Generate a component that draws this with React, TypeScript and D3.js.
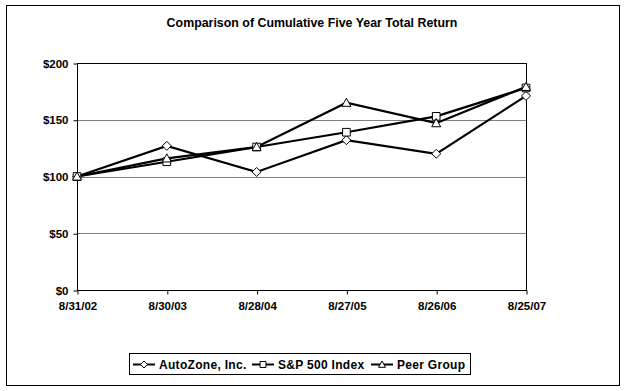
import { useEffect, useRef } from 'react';
import * as d3 from 'd3';

const dates = ['8/31/02', '8/30/03', '8/28/04', '8/27/05', '8/26/06', '8/25/07'];
const autozone = [100, 127, 104, 132, 120, 171];
const sp500 = [100, 113, 126, 139, 153, 178];
const peerGroup = [100, 116, 126, 165, 147, 179];
const yTicks = [0, 50, 100, 150, 200];

const seriesList = [
  { name: 'AutoZone, Inc.', values: autozone, marker: 'diamond' },
  { name: 'S&P 500 Index', values: sp500, marker: 'square' },
  { name: 'Peer Group', values: peerGroup, marker: 'triangle' },
];

const font = 'Arial, "Liberation Sans", sans-serif';

function markerPath(kind: string, s: number) {
  if (kind === 'diamond') return `M0,${-s}L${s},0L0,${s}L${-s},0Z`;
  if (kind === 'square') return `M${-s * 0.85},${-s * 0.85}h${s * 1.7}v${s * 1.7}h${-s * 1.7}Z`;
  return `M0,${-s}L${s},${s * 0.8}L${-s},${s * 0.8}Z`;
}

const App = () => {
  const ref = useRef<SVGSVGElement>(null);

  useEffect(() => {
    const svg = d3.select(ref.current);
    svg.selectAll('*').remove();

    const left = 77, right = 526, top = 63, bottom = 290;

    const x = d3.scalePoint().domain(dates).range([left, right]).padding(0);
    const y = d3.scaleLinear().domain([0, 200]).range([bottom, top]);

    // outer frame
    svg.append('rect')
      .attr('x', 6.5).attr('y', 5.5).attr('width', 613).attr('height', 380)
      .attr('fill', 'white').attr('stroke', 'black').attr('stroke-width', 1);

    svg.append('text')
      .attr('x', 312).attr('y', 27)
      .attr('text-anchor', 'middle')
      .attr('font-family', font).attr('font-weight', 'bold').attr('font-size', 12.4)
      .text('Comparison of Cumulative Five Year Total Return');

    // grid
    svg.append('g').selectAll('line')
      .data(yTicks.filter((d) => d > 0 && d < 200))
      .enter().append('line')
      .attr('x1', left).attr('x2', right)
      .attr('y1', (d) => Math.round(y(d)) + 0.5).attr('y2', (d) => Math.round(y(d)) + 0.5)
      .attr('stroke', '#808080').attr('stroke-width', 1);

    // plot border
    svg.append('rect')
      .attr('x', left + 0.5).attr('y', top + 0.5)
      .attr('width', right - left).attr('height', bottom - top)
      .attr('fill', 'none').attr('stroke', 'black').attr('stroke-width', 1);

    const yAxis = svg.append('g')
      .attr('transform', `translate(${left + 0.5},0.5)`)
      .call(d3.axisLeft(y).tickValues(yTicks).tickSize(4).tickPadding(5).tickFormat((d) => `$${d}`));
    yAxis.select('.domain').remove();
    yAxis.selectAll('text')
      .attr('font-family', font).attr('font-weight', 'bold').attr('font-size', 11.5).attr('fill', 'black');

    const xAxis = svg.append('g')
      .attr('transform', `translate(0.5,${bottom + 0.5})`)
      .call(d3.axisBottom(x).tickSize(4).tickPadding(7));
    xAxis.select('.domain').remove();
    xAxis.selectAll('text')
      .attr('font-family', font).attr('font-weight', 'bold').attr('font-size', 11.5).attr('fill', 'black');

    const line = d3.line<number>()
      .x((_, i) => x(dates[i]) as number)
      .y((d) => y(d));

    seriesList.forEach((s) => {
      svg.append('path')
        .datum(s.values)
        .attr('d', line)
        .attr('fill', 'none').attr('stroke', 'black').attr('stroke-width', 2.2);
    });
    seriesList.forEach((s) => {
      svg.append('g').selectAll('path')
        .data(s.values)
        .enter().append('path')
        .attr('transform', (d, i) => `translate(${x(dates[i])},${y(d)})`)
        .attr('d', markerPath(s.marker, 4.5))
        .attr('fill', 'white').attr('stroke', 'black').attr('stroke-width', 1);
    });

    // legend
    svg.append('rect')
      .attr('x', 129.5).attr('y', 353.5).attr('width', 341).attr('height', 21)
      .attr('fill', 'white').attr('stroke', 'black').attr('stroke-width', 1);

    const legendX = [133, 252, 371];
    seriesList.forEach((s, i) => {
      const g = svg.append('g').attr('transform', `translate(${legendX[i]},364)`);
      g.append('line').attr('x1', 0).attr('x2', 22).attr('y1', 0.5).attr('y2', 0.5)
        .attr('stroke', 'black').attr('stroke-width', 2);
      g.append('path').attr('transform', 'translate(11,0.5)')
        .attr('d', markerPath(s.marker, 3.5))
        .attr('fill', 'white').attr('stroke', 'black').attr('stroke-width', 1);
      g.append('text').attr('x', 26).attr('y', 4.5)
        .attr('font-family', font).attr('font-weight', 'bold').attr('font-size', 12)
        .attr('letter-spacing', 0.3)
        .text(s.name);
    });
  }, []);

  return (
    <svg ref={ref} width={624} height={391}
      style={{ position: 'absolute', left: 0, top: 0, background: 'white' }} />
  );
};

export default App;
